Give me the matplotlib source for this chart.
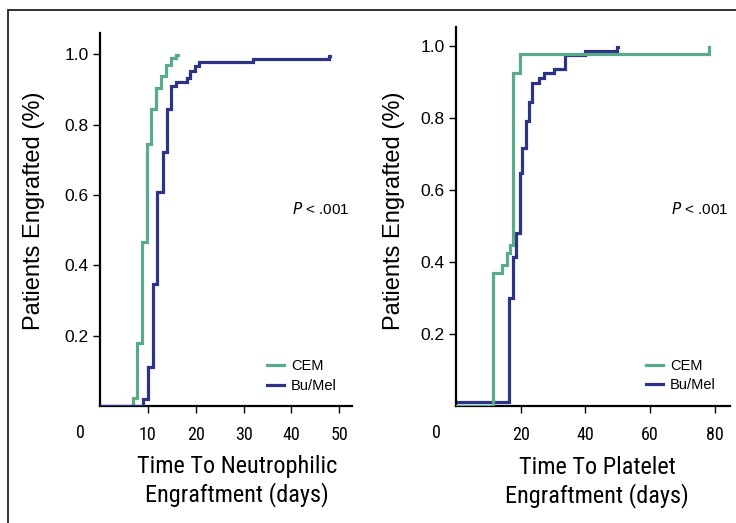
import matplotlib
matplotlib.use('Agg')
import matplotlib.pyplot as plt
from matplotlib import font_manager
from matplotlib.patches import Rectangle

# neutrophil engraftment (days, fraction engrafted)
neu_cem_t = [0, 7.0, 7.8, 8.8, 9.9, 10.7, 11.7, 12.8, 13.8, 14.9, 15.8, 16.3]
neu_cem_y = [0, 0.022, 0.178, 0.466, 0.745, 0.845, 0.904, 0.94, 0.97, 0.989, 0.997, 0.997]
neu_bu_t = [0, 9.0, 10.0, 11.0, 12.0, 13.2, 14.0, 14.9, 15.9, 18.1, 18.9, 19.9, 20.7, 31.9, 47.9, 48.0]
neu_bu_y = [0, 0.019, 0.112, 0.347, 0.608, 0.723, 0.845, 0.909, 0.923, 0.934, 0.954, 0.966, 0.979,
            0.986, 0.996, 0.996]

# platelet engraftment
plt_cem_t = [0, 11.5, 14.3, 15.7, 16.7, 17.6, 19.7, 78.2, 78.3]
plt_cem_y = [0, 0.369, 0.392, 0.424, 0.447, 0.924, 0.978, 0.998, 0.998]
plt_bu_t = [0, 16.4, 17.6, 18.7, 19.8, 20.5, 21.5, 22.6, 23.6, 25.7, 27.2, 30.3, 33.7, 39.8,
            49.9, 50.0]
plt_bu_y = [0.012, 0.299, 0.415, 0.48, 0.648, 0.716, 0.793, 0.845, 0.898, 0.910, 0.926, 0.936,
            0.975, 0.987, 0.998, 0.998]

neu_xticks = [10, 20, 30, 40, 50]
plt_xticks = [20, 40, 60, 80]
yticks = [0.2, 0.4, 0.6, 0.8, 1.0]

GREEN = "#5aab8c"
NAVY = "#2d3386"

# condensed face for the x axis texts, if one is around
fonts = font_manager.fontManager.ttflist
names = {f.name for f in fonts}
NARROW = dict(family="Liberation Sans")
for cand in ["Liberation Sans Narrow", "Roboto Condensed", "Open Sans Condensed",
             "Noto Sans Condensed", "DejaVu Sans Condensed"]:
    if cand in names:
        NARROW = dict(family=cand)
        break
else:
    cond = [f for f in fonts if f.stretch in ("condensed", "semi-condensed", 300, 400)
            and "Sans" in f.name and f.weight in ("normal", 400, "regular")]
    if cond:
        NARROW = dict(family=cond[0].name, fontstretch=cond[0].stretch)

plt.rcParams['font.family'] = ['Liberation Sans', 'DejaVu Sans']

fig = plt.figure(figsize=(7.36, 5.23), dpi=100)
ax1 = fig.add_axes([100/736, 1-406/523, 251.7/736, 373/523])
ax2 = fig.add_axes([456/736, 1-406/523, 274/736, 379/523])

# outer frame (only top and left visible)
fig.patches.append(Rectangle((8/736, -0.1), 1.2, 1.1 - 10/523, transform=fig.transFigure,
                             fill=False, lw=1.3, ec="#222222"))

panels = [
    (ax1, neu_cem_t, neu_cem_y, neu_bu_t, neu_bu_y, neu_xticks, 52.6, 1.061,
     "Time To Neutrophilic\nEngraftment (days)", 0.545, 0.528, -0.22, 0.523, 0.663),
    (ax2, plt_cem_t, plt_cem_y, plt_bu_t, plt_bu_y, plt_xticks, 84.7, 1.053,
     "Time To Platelet\nEngraftment (days)", 0.515, 0.52, -0.185, 0.514, 0.693),
]

for i, (ax, ct, cy, bt, by, xt, xmax, ymax, xlab, xlx, py, ylx, yly, lgx) in enumerate(panels):
    zc, zb = (2, 3) if i == 0 else (3, 2)
    ax.step(ct, cy, where="post", color=GREEN, lw=2.3, label="CEM", zorder=zc,
            solid_joinstyle="miter")
    ax.step(bt, by, where="post", color=NAVY, lw=2.3, label="Bu/Mel", zorder=zb,
            solid_joinstyle="miter")
    ax.set_xlim(0, xmax)
    ax.set_ylim(0, ymax)
    ax.set_xticks(xt)
    ax.set_yticks(yticks)
    ax.set_yticklabels([f"{v:.1f}" for v in yticks], fontsize=12.5)
    ax.set_xticklabels([str(v) for v in xt], fontsize=13, **NARROW)
    for s in ["top", "right"]:
        ax.spines[s].set_visible(False)
    for s in ["left", "bottom"]:
        ax.spines[s].set_linewidth(1.6)
    ax.tick_params(axis="both", direction="out", length=5, width=1)
    ax.tick_params(axis="x", pad=9.5)
    ax.tick_params(axis="y", pad=3)
    ax.annotate("0", xy=(0, 0), xycoords="axes fraction", xytext=(-20, -27),
                textcoords="offset pixels", ha="center", va="center",
                fontsize=13, **NARROW)
    ax.set_ylabel("Patients Engrafted (%)", fontsize=17)
    ax.yaxis.set_label_coords(ylx, yly)
    ax.set_xlabel(xlab, fontsize=17.5, linespacing=1.2, **NARROW)
    ax.xaxis.set_label_coords(xlx, -0.132)
    ax.text(0.99 if i == 0 else 0.996, py, r"$\it{P}$ < .001", transform=ax.transAxes,
            ha="right", va="center", fontsize=11)
    ax.legend(loc="upper left", bbox_to_anchor=(lgx, 0.125),
              frameon=False, fontsize=10.5, handlelength=1.2, handletextpad=0.45,
              labelspacing=0.4, borderpad=0, borderaxespad=0)

fig.savefig("out.png", dpi=100)
